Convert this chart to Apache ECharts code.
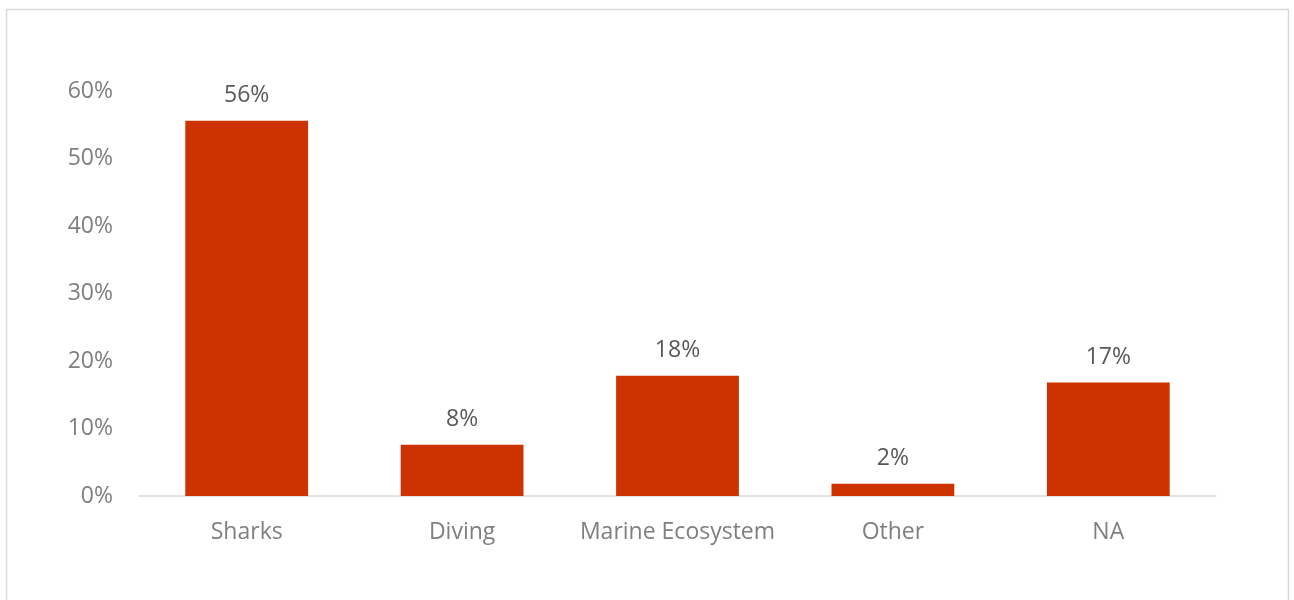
<!DOCTYPE html>
<html>
<head>
<meta charset="utf-8">
<script src="https://cdn.jsdelivr.net/npm/echarts@6/dist/echarts.min.js"></script>
<style>
  html, body { margin: 0; padding: 0; background: #fff; }
  #main { width: 1294px; height: 600px; }
</style>
</head>
<body>
<div id="main"></div>
<script>
// 类别与数值（百分比）
var categories = ['Sharks', 'Diving', 'Marine Ecosystem', 'Other', 'NA'];
var shares = [55.6, 7.6, 17.8, 1.8, 16.8];
var yTicks = [0, 10, 20, 30, 40, 50, 60];

var myChart = echarts.init(document.getElementById('main'));

var option = {
    animation: false,
    textStyle: { fontFamily: '"Open Sans", sans-serif' },
    graphic: [{
        type: 'rect',
        shape: { x: 6.5, y: 9.5, width: 1282, height: 620 },
        style: { fill: 'none', stroke: '#d9d9d9', lineWidth: 1.5 },
        silent: true
    }],
    grid: { left: 139, right: 78, top: 91, bottom: 104 },
    xAxis: {
        type: 'category',
        data: categories,
        axisLine: { lineStyle: { color: '#d9d9d9', width: 1.5 } },
        axisTick: { show: false },
        axisLabel: { interval: 0, color: '#7f7f7f', fontSize: 23, margin: 25 }
    },
    yAxis: {
        type: 'value',
        min: yTicks[0],
        max: yTicks[yTicks.length - 1],
        interval: 10,
        splitLine: { show: false },
        axisLine: { show: false },
        axisTick: { show: false },
        axisLabel: {
            color: '#7f7f7f',
            fontSize: 23,
            margin: 26,
            formatter: function (v) { return v + '%'; }
        }
    },
    series: [{
        type: 'bar',
        data: shares,
        barWidth: '57%',
        itemStyle: { color: '#cc3300' },
        label: {
            show: true,
            position: 'top',
            distance: 14,
            color: '#595959',
            fontSize: 23,
            formatter: function (p) { return Math.round(p.value) + '%'; }
        }
    }]
};

myChart.setOption(option);
</script>
</body>
</html>
